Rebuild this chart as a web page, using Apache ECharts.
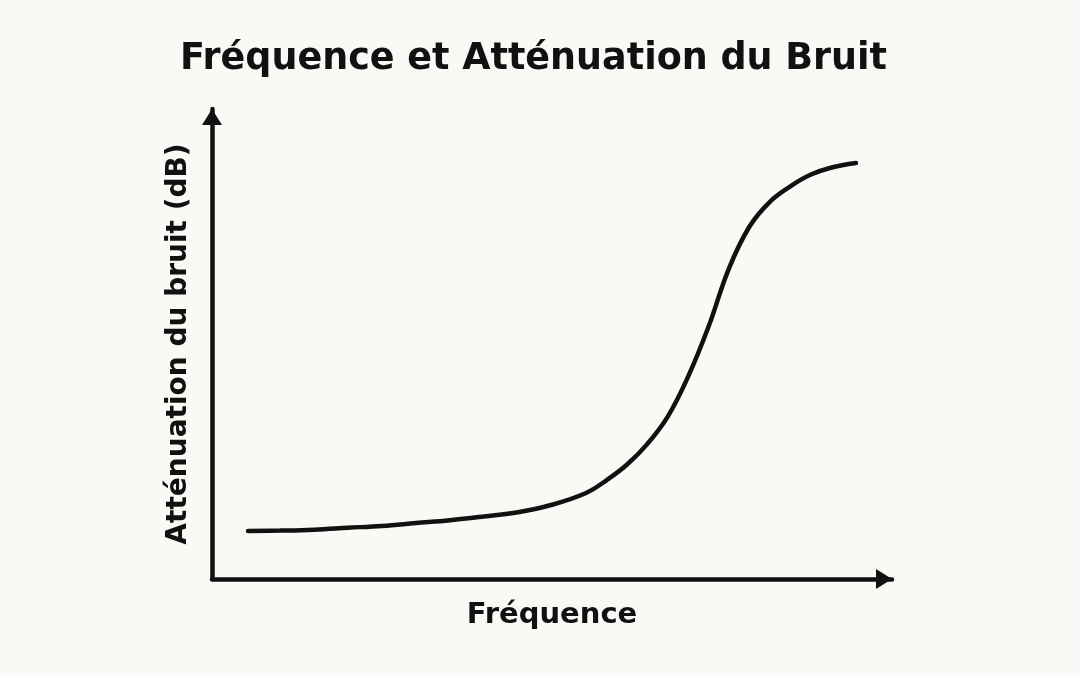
<!DOCTYPE html>
<html>
<head>
<meta charset="utf-8">
<script src="https://cdn.jsdelivr.net/npm/echarts@6/dist/echarts.min.js"></script>
<style>
  html, body { margin: 0; padding: 0; background: #faf9f6; }
  #chart { width: 1080px; height: 675px; }
</style>
</head>
<body>
<div id="chart"></div>
<script>
// courbe (unités arbitraires 0-100)
var frequence = [5.3, 10, 15, 20, 25, 30, 35, 40, 45, 50, 55, 58, 61, 64, 67, 70, 73, 76, 79, 82, 85, 88, 91, 94.7];
var attenuation = [10.2, 10.3, 10.5, 10.9, 11.3, 11.9, 12.5, 13.3, 14.2, 15.8, 18.3, 21.0, 24.3, 28.7, 34.5, 43.0, 53.6, 66.0, 74.9, 80.2, 83.5, 86.0, 87.5, 88.5];

var chart = echarts.init(document.getElementById('chart'));

var points = frequence.map(function (f, i) { return [f, attenuation[i]]; });

// flèche pleine au bout des axes, pointe sur l'extrémité
var axisLine = {
  show: true,
  symbol: ['none', 'triangle'],
  symbolSize: [20, 16],
  symbolOffset: [0, -8],
  lineStyle: { color: '#111', width: 4.5 }
};

var option = {
  backgroundColor: '#faf9f6',
  title: {
    text: 'Fréquence et Atténuation du Bruit',
    left: 175,
    top: 36,
    textStyle: { fontFamily: 'DejaVu Sans', fontWeight: 'bold', fontSize: 36.5, color: '#111' }
  },
  grid: { left: 212, right: 188, top: 109, bottom: 96 },
  xAxis: {
    type: 'value',
    min: 0,
    max: 100,
    name: 'Fréquence',
    nameLocation: 'middle',
    nameGap: 22,
    nameTextStyle: { fontFamily: 'DejaVu Sans', fontWeight: 'bold', fontSize: 29, color: '#111', verticalAlign: 'top' },
    axisLine: axisLine,
    axisTick: { show: false },
    axisLabel: { show: false },
    splitLine: { show: false }
  },
  yAxis: {
    type: 'value',
    min: 0,
    max: 100,
    name: 'Atténuation du bruit (dB)',
    nameLocation: 'middle',
    nameGap: 19,
    nameTextStyle: { fontFamily: 'DejaVu Sans', fontWeight: 'bold', fontSize: 28, color: '#111' },
    axisLine: axisLine,
    axisTick: { show: false },
    axisLabel: { show: false },
    splitLine: { show: false }
  },
  series: [{
    type: 'line',
    data: points,
    smooth: 0.4,
    showSymbol: false,
    lineStyle: { color: '#111', width: 4.5, cap: 'round' }
  }]
};

chart.setOption(option);
</script>
</body>
</html>
